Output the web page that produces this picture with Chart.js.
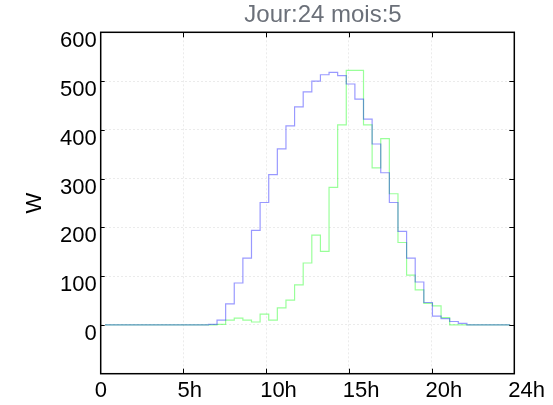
<!DOCTYPE html>
<html>
<head>
<meta charset="utf-8">
<script src="https://cdn.jsdelivr.net/npm/chart.js@4"></script>
<style>
  html, body { margin: 0; padding: 0; background: #fff; }
  #wrap { width: 553px; height: 405px; }
</style>
</head>
<body>
<div id="wrap"><canvas id="powerChart" width="553" height="405"></canvas></div>
<script>
// half-hour slots (hours), one value per slot
const slotHours = [0.25, 0.75, 1.25, 1.75, 2.25, 2.75, 3.25, 3.75, 4.25, 4.75, 5.25, 5.75,
    6.25, 6.75, 7.25, 7.75, 8.25, 8.75, 9.25, 9.75, 10.25, 10.75, 11.25, 11.75,
    12.25, 12.75, 13.25, 13.75, 14.25, 14.75, 15.25, 15.75, 16.25, 16.75, 17.25, 17.75,
    18.25, 18.75, 19.25, 19.75, 20.25, 20.75, 21.25, 21.75, 22.25, 22.75, 23.25, 23.75];

const bluePower = [0, 0, 0, 0, 0, 0, 0, 0, 0, 0, 0, 0,
    1, 10, 43, 86, 137, 194, 251, 308, 361, 408, 447, 478,
    500, 513, 518, 511, 494, 463, 422, 371, 312, 251, 192, 137,
    88, 46, 18, 13, 7, 3, 0, 0, 0, 0, 0, 0];

const greenPower = [0, 0, 0, 0, 0, 0, 0, 0, 0, 0, 0, 0,
    0, 1, 10, 14, 10, 6, 22, 10, 35, 51, 82, 127,
    184, 151, 282, 410, 522, 522, 410, 322, 382, 269, 169, 102,
    72, 44, 39, 15, 0, 0, 0, 0, 0, 0, 0, 0];

// x axis is split in 5 equal parts, labels rounded
const xTickValues = [0, 4.8, 9.6, 14.4, 19.2, 24];
const xTickLabels = ["0", "5h", "10h", "15h", "20h", "24h"];

const chartTitle = "Jour:24 mois:5";
const yTitle = "W";

const toPoints = arr => arr.map((v, i) => ({ x: slotHours[i], y: v }));

// frame, inner tick marks and title text
const framePlugin = {
    id: "frame",
    afterDraw(chart) {
        const { ctx, chartArea: a, scales } = chart;
        ctx.save();
        ctx.strokeStyle = "#000";
        ctx.lineWidth = 1;
        ctx.beginPath();
        scales.x.ticks.forEach(t => {
            const px = Math.round(scales.x.getPixelForValue(t.value)) + 0.5;
            if (px <= a.left + 1 || px >= a.right - 1) return;
            ctx.moveTo(px, a.bottom); ctx.lineTo(px, a.bottom - 5);
            ctx.moveTo(px, a.top); ctx.lineTo(px, a.top + 5);
        });
        scales.y.ticks.forEach(t => {
            const py = Math.round(scales.y.getPixelForValue(t.value)) + 0.5;
            if (py <= a.top + 1 || py >= a.bottom - 1) return;
            ctx.moveTo(a.right, py); ctx.lineTo(a.right - 5, py);
            ctx.moveTo(a.left, py); ctx.lineTo(a.left + 4, py);
        });
        ctx.stroke();
        ctx.lineWidth = 1.5;
        ctx.strokeRect(a.left, a.top, a.right - a.left, a.bottom - a.top);

        ctx.fillStyle = "#6b7079";
        ctx.font = '24px "Liberation Sans", Arial, sans-serif';
        ctx.textAlign = "center";
        ctx.textBaseline = "middle";
        ctx.fillText(chartTitle, 323, 15);
        ctx.restore();
    }
};

const ctx = document.getElementById("powerChart").getContext("2d");
new Chart(ctx, {
    type: "line",
    data: {
        datasets: [
            {
                label: "bleu",
                data: toPoints(bluePower),
                borderColor: "rgba(0, 0, 255, 0.4)",
                borderWidth: 1.2,
                stepped: true,
                pointRadius: 0,
                fill: false
            },
            {
                label: "vert",
                data: toPoints(greenPower),
                borderColor: "rgba(0, 255, 0, 0.4)",
                borderWidth: 1.2,
                stepped: true,
                pointRadius: 0,
                fill: false
            }
        ]
    },
    options: {
        responsive: false,
        animation: false,
        layout: { padding: { left: 0, right: 38.7, top: 32.3, bottom: 0 } },
        plugins: {
            legend: { display: false },
            tooltip: { enabled: false }
        },
        scales: {
            x: {
                type: "linear",
                min: 0,
                max: 24,
                afterBuildTicks: s => { s.ticks = xTickValues.map(v => ({ value: v })); },
                afterFit: s => { s.height = 31.3; s.paddingLeft = 0; s.paddingRight = 0; },
                grid: { color: "#ebebeb", drawTicks: false },
                border: { display: false, dash: [2, 2] },
                ticks: {
                    align: "start",
                    labelOffset: -6,
                    padding: 4,
                    maxRotation: 0,
                    color: "#000",
                    font: { family: '"Liberation Sans", Arial, sans-serif', size: 22 },
                    callback: (v, i) => xTickLabels[i]
                }
            },
            y: {
                min: -100,
                max: 600,
                afterFit: s => { s.width = 100.7; },
                grid: { color: "#ebebeb", drawTicks: false },
                border: { display: false, dash: [2, 2] },
                ticks: {
                    stepSize: 100,
                    padding: 4,
                    labelOffset: 9,
                    color: "#000",
                    font: { family: '"Liberation Sans", Arial, sans-serif', size: 22 },
                    callback: v => (v < 0 ? "" : v)
                },
                title: {
                    display: true,
                    text: yTitle,
                    color: "#000",
                    padding: { top: 22, bottom: 0 },
                    font: { family: '"Liberation Sans", Arial, sans-serif', size: 22 }
                }
            }
        }
    },
    plugins: [framePlugin]
});
</script>
</body>
</html>
